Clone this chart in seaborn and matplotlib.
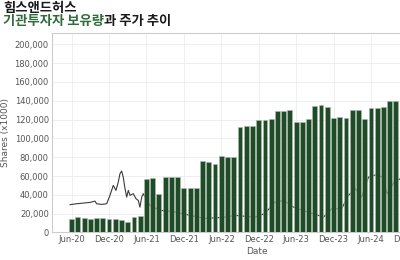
import numpy as np
import pandas as pd
import matplotlib
matplotlib.use("Agg")
import matplotlib.pyplot as plt
import seaborn as sns
from matplotlib.ticker import FuncFormatter

# ---- data ----
title_line1 = "힘스앤드허스"
title_green = "기관투자자 보유량"
title_rest = "과 주가 추이"
x_label = "Date"
y_label = "Shares (x1000)"

# monthly institutional holdings (x1000 shares), starting Jun-20
holdings = [14.8, 16.7, 15.4, 14.8, 15.4, 15.4, 14.0, 14.0, 13.1, 11.6, 16.0, 17.4,
            56.4, 57.5, 40.8, 59.2, 59.2, 59.2, 47.5, 47.5, 47.5, 75.9, 74.8, 72.7,
            81.6, 80.1, 80.1, 112.0, 113.1, 113.1, 119.9, 119.9, 120.6, 129.1, 129.1, 130.2,
            117.4, 117.4, 120.6, 134.4, 135.5, 133.3, 122.0, 123.1, 122.0, 130.6, 130.6, 120.6,
            132.7, 132.7, 133.3, 140.1, 140.1, 140.1]
holdings = [v * 1000 for v in holdings]

# price line (drawn on the shares scale), position in months since Jun-20
price_pos = [-0.27, 0.80, 1.86, 2.94, 3.74, 4.01, 4.82, 5.62, 6.15, 6.68, 7.11, 7.48,
             7.75, 8.03, 8.28, 8.56, 8.83, 9.09, 9.36, 9.89, 10.32, 10.69, 10.96, 11.24,
             11.49, 12.57, 14.17, 16.26, 18.99, 21.4, 24.3, 26.2, 29.4, 31.0, 32.6, 34.0,
             35.6, 37.1, 38.7, 40.4, 41.7, 43.3, 44.4, 45.5, 46.5, 47.6, 48.96, 49.8,
             50.6, 51.7, 52.7]
price_val = [29.5, 30.5, 31.2, 31.9, 33.3, 30.5, 29.8, 30.5, 39.4, 50.0, 44.7, 53.5,
             62.4, 65.2, 58.8, 46.5, 37.6, 44.7, 39.4, 41.2, 35.9, 34.0, 26.9, 37.6,
             41.2, 28.7, 23.4, 22.3, 18.1, 14.9, 16.0, 18.1, 16.3, 20.2, 32.2, 34.0,
             26.9, 23.4, 19.9, 16.3, 25.2, 25.2, 39.4, 46.5, 37.6, 58.8, 61.7, 58.8,
             41.2, 53.5, 57.1]
price_val = [v * 1000 for v in price_val]

tick_labels = ["Jun-20", "Dec-20", "Jun-21", "Dec-21", "Jun-22", "Dec-22",
               "Jun-23", "Dec-23", "Jun-24", "Dec-24"]
y_ticks = [0, 20000, 40000, 60000, 80000, 100000, 120000, 140000, 160000, 180000, 200000]

# ---- style ----
sns.set_theme(style="whitegrid")
plt.rcParams['font.family'] = ['DejaVu Sans']

fig = plt.figure(figsize=(4.0, 2.6), dpi=100)
ax = fig.add_axes([0.129, 0.106, 1.026, 0.767])

line_df = pd.DataFrame({"pos": price_pos, "price": price_val})
sns.lineplot(data=line_df, x="pos", y="price", ax=ax, color="#3a3a3a",
             linewidth=0.8, sort=False)

bar_df = pd.DataFrame({"idx": list(range(len(holdings))), "shares": holdings})
sns.barplot(data=bar_df, x="idx", y="shares", ax=ax, color="#1f4b29",
            saturation=1, width=0.78, edgecolor="#a9bfa9", linewidth=0.4,
            native_scale=True)

for ln in ax.lines:
    ln.set_zorder(1.5)
for p in ax.patches:
    p.set_zorder(3)

ax.set_axisbelow(True)
ax.grid(True, color="#ececec", linewidth=0.6)
for s in ax.spines.values():
    s.set_color("#cccccc")
    s.set_linewidth(0.8)

ax.set_xlim(-3.21, 62.6)
ax.set_ylim(0, 212000)
ax.set_xticks([i * 6 for i in range(len(tick_labels))])
ax.set_xticklabels(tick_labels)
ax.set_yticks(y_ticks)
ax.yaxis.set_major_formatter(FuncFormatter(lambda v, p: f"{int(v):,}"))
ax.tick_params(axis="both", labelsize=6, colors="#555555", length=0, pad=2)
ax.set_xlabel(x_label, fontsize=6.5, color="#555555", labelpad=2)
ax.set_ylabel(y_label, fontsize=6.5, color="#555555", labelpad=3)

# ---- title ----
kr = ['Noto Sans CJK KR', 'DejaVu Sans']
fs = 9.6
fig.text(3 / 400, 1 - 1.0 / 260, title_line1, family=kr, fontsize=fs, fontweight='bold',
         color="#1a1a1a", va="top", ha="left")
t2 = fig.text(3 / 400, 1 - 14.5 / 260, title_green, family=kr, fontsize=fs, fontweight='bold',
              color="#2f6b3b", va="top", ha="left")
fig.canvas.draw()
bb = t2.get_window_extent(renderer=fig.canvas.get_renderer())
fig.text(bb.x1 / fig.bbox.width, 1 - 14.5 / 260, title_rest, family=kr, fontsize=fs,
         fontweight='bold', color="#1a1a1a", va="top", ha="left")

fig.savefig("out.png", dpi=100)
